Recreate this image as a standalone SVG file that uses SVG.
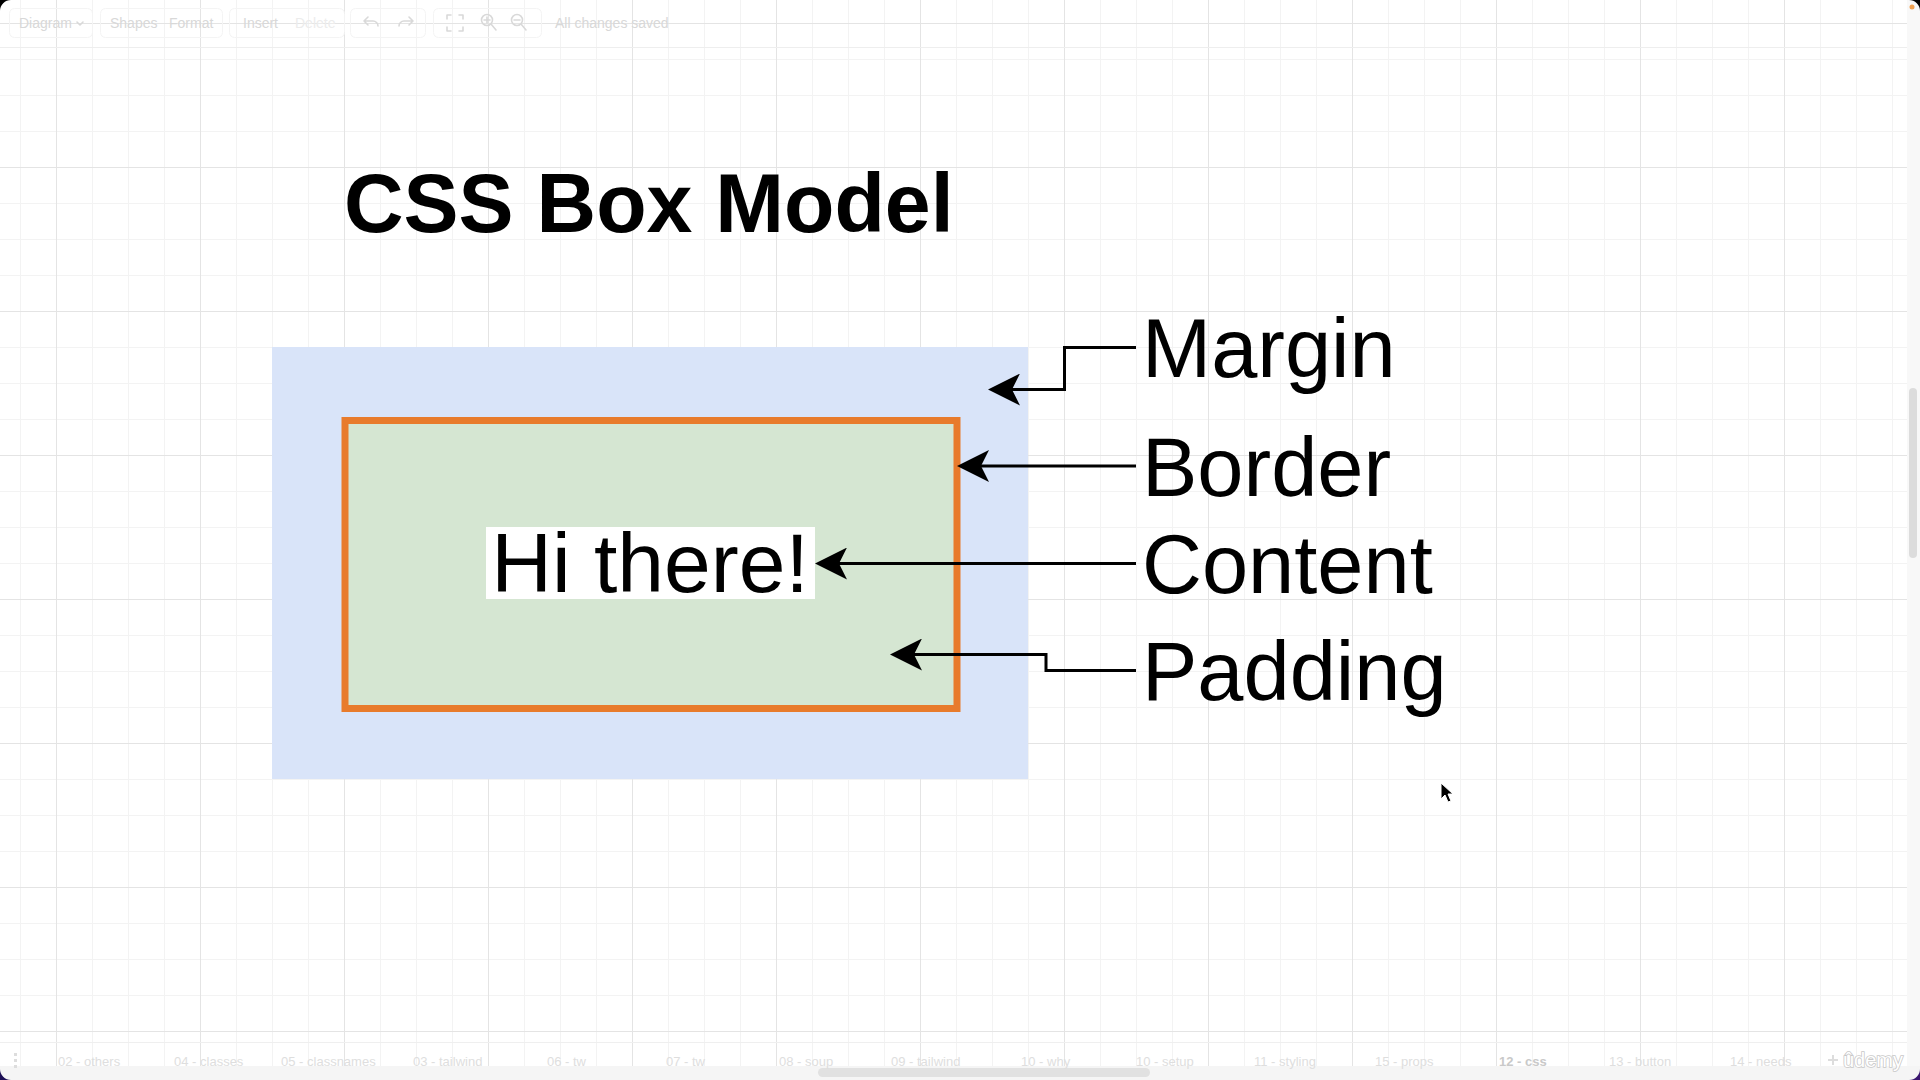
<svg xmlns="http://www.w3.org/2000/svg" width="1920" height="1080" viewBox="0 0 1920 1080">
  <style>
    .ui { font-family: "Liberation Sans", Arial, sans-serif; font-size: 14px; fill: #d8d8d8; }
    .ui-off { fill: #ececec; }
    .tab { font-family: "Liberation Sans", Arial, sans-serif; font-size: 13px; fill: #dedede; }
    .tab-on { font-weight: bold; fill: #c9c9c9; }
    .tbox { fill: none; stroke: #f4f4f4; stroke-width: 1; }
    .icon { fill: none; stroke: #d9d9d9; stroke-width: 1.6; stroke-linecap: round; stroke-linejoin: round; }
    .title { font-family: "Liberation Sans", Arial, sans-serif; font-size: 82.5px; font-weight: bold; fill: #000; }
    .label { font-family: "Liberation Sans", Arial, sans-serif; font-size: 83px; fill: #000; }
    .content-text { font-family: "Liberation Sans", Arial, sans-serif; font-size: 84px; fill: #000; }
    .wire { fill: none; stroke: #000; stroke-width: 3; marker-end: url(#head); }
  </style>
  <defs>
    <pattern id="grid-minor" x="20" y="23" width="36" height="36" patternUnits="userSpaceOnUse">
      <path d="M0.5 0V36M0 0.5H36" stroke="#f3f3f3" stroke-width="1" fill="none"/>
    </pattern>
    <pattern id="grid-major" x="56" y="23" width="144" height="144" patternUnits="userSpaceOnUse">
      <path d="M0.5 0V144M0 0.5H144" stroke="#e4e4e4" stroke-width="1" fill="none"/>
    </pattern>
    <marker id="head" viewBox="0 -16 32 32" refX="8" refY="0" markerWidth="32" markerHeight="32" markerUnits="userSpaceOnUse" orient="auto">
      <path d="M0,-16L32,0L0,16L8,0Z" fill="#000"/>
    </marker>
  </defs>

  <!-- canvas -->
  <rect width="1920" height="1080" fill="#ffffff"/>
  <rect width="1907" height="1066" fill="url(#grid-minor)"/>
  <rect width="1907" height="1066" fill="url(#grid-major)"/>
  <line x1="0" y1="47.5" x2="1907" y2="47.5" stroke="#eeeeee"/>

  <!-- toolbar -->
  <g id="toolbar">
    <rect class="tbox" x="9.5" y="8.5" width="83" height="29" rx="5"/>
    <rect class="tbox" x="100.5" y="8.5" width="122" height="29" rx="5"/>
    <rect class="tbox" x="229.5" y="8.5" width="115" height="29" rx="5"/>
    <rect class="tbox" x="350.5" y="8.5" width="75" height="29" rx="5"/>
    <rect class="tbox" x="433.5" y="8.5" width="108" height="29" rx="5"/>
    <text class="ui" x="19" y="28">Diagram</text>
    <path class="icon" d="M77 22l3 3 3-3"/>
    <text class="ui" x="110" y="28">Shapes</text>
    <text class="ui" x="169" y="28">Format</text>
    <text class="ui" x="243" y="28">Insert</text>
    <text class="ui ui-off" x="295" y="28">Delete</text>
    <path class="icon" d="M364 21l4-4M364 21l4 4M364 21h9a5 5 0 0 1 5 5"/>
    <path class="icon" stroke="#ececec" d="M413 21l-4-4M413 21l-4 4M413 21h-9a5 5 0 0 0 -5 5"/>
    <path class="icon" d="M447 19v-4h4M459 15h4v4M463 27v4h-4M451 31h-4v-4"/>
    <circle class="icon" cx="487" cy="20" r="5.5"/>
    <path class="icon" d="M491 24l5 6M487 17v6M484 20h6"/>
    <circle class="icon" cx="517" cy="20" r="5.5"/>
    <path class="icon" d="M521 24l5 6M514 20h6"/>
    <text class="ui" x="555" y="28">All changes saved</text>
  </g>

  <!-- right scrollbar -->
  <g id="v-scroll">
    <rect x="1907" y="0" width="13" height="1080" fill="#f8f8f8"/>
    <rect x="1909" y="388" width="8" height="170" rx="4" fill="#dcdcdc"/>
  </g>

  <!-- page tabs -->
  <g id="tabs">
    <line x1="0" y1="1042.5" x2="1907" y2="1042.5" stroke="#efefef"/>
    <rect x="0" y="1066" width="1920" height="14" fill="#f5f5f5"/>
    <rect x="818" y="1068" width="332" height="9" rx="4.5" fill="#e1e1e1"/>
    <rect x="14" y="1053" width="3" height="3" fill="#dddddd"/>
    <rect x="14" y="1059" width="3" height="3" fill="#dddddd"/>
    <rect x="14" y="1065" width="3" height="3" fill="#dddddd"/>
    <text class="tab" x="58" y="1066">02 - others</text>
    <text class="tab" x="174" y="1066">04 - classes</text>
    <text class="tab" x="281" y="1066">05 - classnames</text>
    <text class="tab" x="413" y="1066">03 - tailwind</text>
    <text class="tab" x="547" y="1066">06 - tw</text>
    <text class="tab" x="666" y="1066">07 - tw</text>
    <text class="tab" x="779" y="1066">08 - soup</text>
    <text class="tab" x="891" y="1066">09 - tailwind</text>
    <text class="tab" x="1021" y="1066">10 - why</text>
    <text class="tab" x="1136" y="1066">10 - setup</text>
    <text class="tab" x="1254" y="1066">11 - styling</text>
    <text class="tab" x="1375" y="1066">15 - props</text>
    <text class="tab tab-on" x="1499" y="1066">12 - css</text>
    <text class="tab" x="1609" y="1066">13 - button</text>
    <text class="tab" x="1730" y="1066">14 - needs</text>
    <path d="M1828 1060h10M1833 1055v10" stroke="#dddddd" stroke-width="2"/>
    <text x="1843" y="1067" font-family="'Liberation Sans', Arial, sans-serif" font-size="20" fill="#ffffff" stroke="#c8c8c8" stroke-width="1.6" paint-order="stroke">ûdemy</text>
  </g>

  <!-- window corners -->
  <path d="M0 0H11A11 11 0 0 0 0 11Z" fill="#000"/>
  <path d="M1920 0H1909A11 11 0 0 1 1920 11Z" fill="#000"/>
  <path d="M0 1080H11A11 11 0 0 1 0 1069Z" fill="#1d0f55"/>
  <path d="M1920 1080H1909A11 11 0 0 0 1920 1069Z" fill="#3a1670"/>
  <circle cx="1912" cy="7" r="2.5" fill="#f0a050"/>

  <!-- heading -->
  <g id="title">
    <text class="title" x="344" y="232">CSS Box Model</text>
  </g>

  <!-- box model -->
  <g id="margin-box">
    <rect x="272" y="347" width="756" height="432" fill="#d9e4f9"/>
  </g>
  <g id="border-box">
    <rect x="345" y="420.5" width="612" height="288" fill="#d5e6d2" stroke="#e87b2c" stroke-width="7"/>
  </g>
  <g id="content-box">
    <rect x="486" y="527" width="329" height="72" fill="#ffffff"/>
    <text class="content-text" x="650" y="592" text-anchor="middle">Hi there!</text>
  </g>

  <!-- callout arrows -->
  <g id="connectors">
    <path class="wire" d="M1136 347.5H1064.5V389.5H1012"/>
    <path class="wire" d="M1136 466H981"/>
    <path class="wire" d="M1136 563.5H839"/>
    <path class="wire" d="M1136 670.5H1046V654.5H914"/>
  </g>

  <!-- callout labels -->
  <g id="label-margin"><text class="label" x="1142" y="377">Margin</text></g>
  <g id="label-border"><text class="label" x="1142" y="495.5">Border</text></g>
  <g id="label-content"><text class="label" x="1142" y="593">Content</text></g>
  <g id="label-padding"><text class="label" x="1142" y="700">Padding</text></g>

  <!-- pointer -->
  <path d="M1441 783V799L1445 795L1448 802L1451 801L1448 794L1453 794Z" fill="#000" stroke="#fff" stroke-width="1"/>
</svg>
